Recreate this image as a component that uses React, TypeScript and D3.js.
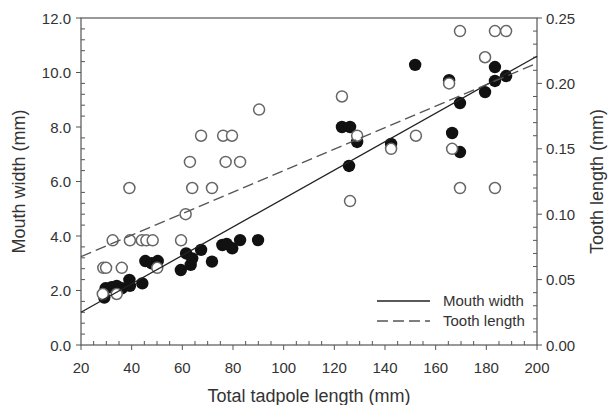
import * as d3 from 'd3';

// mouth width (filled circles, left axis)
const mouthLen = [29.2, 29.7, 32.1, 34.1, 36.1, 39.1, 39.3, 44.2, 45.4, 47.9, 50.3, 59.4, 61.5, 63.3, 63.9, 67.4, 71.7, 75.8, 77.5, 79.7, 82.8, 89.9, 123.0, 126.2, 129.0, 125.8, 142.4, 151.9, 165.3, 169.6, 166.5, 169.6, 179.5, 183.4, 183.4, 187.8];
const mouthWidth = [1.74, 2.08, 2.12, 2.17, 2.08, 2.39, 2.17, 2.26, 3.08, 3.0, 3.08, 2.75, 3.36, 2.94, 3.18, 3.49, 3.06, 3.67, 3.71, 3.55, 3.85, 3.85, 8.0, 8.0, 7.45, 6.57, 7.38, 10.28, 9.72, 8.88, 7.78, 7.08, 9.28, 10.2, 9.69, 9.87];

// tooth length (open circles, right axis)
const toothLen = [28.6, 34.1, 28.8, 29.9, 36.1, 50.1, 32.5, 39.3, 44.0, 45.8, 48.3, 59.5, 61.3, 39.1, 63.9, 71.7, 63.0, 77.1, 82.8, 67.4, 76.1, 79.6, 90.3, 123.0, 129.0, 142.4, 152.2, 165.3, 166.5, 169.6, 179.5, 183.4, 187.8, 126.2, 169.6, 183.4];
const toothLength = [0.039, 0.039, 0.059, 0.059, 0.059, 0.059, 0.08, 0.08, 0.08, 0.08, 0.08, 0.08, 0.10, 0.12, 0.12, 0.12, 0.14, 0.14, 0.14, 0.16, 0.16, 0.16, 0.18, 0.19, 0.16, 0.15, 0.16, 0.20, 0.15, 0.24, 0.22, 0.24, 0.24, 0.11, 0.12, 0.12];

// fitted lines: y = a + b * x
const mouthFit = [0.156, 0.0522];
const toothFit = [0.0511, 0.000822];

const xTicks = [20, 40, 60, 80, 100, 120, 140, 160, 180, 200];
const yLeftTicks = [0, 2, 4, 6, 8, 10, 12];
const yRightTicks = [0, 0.05, 0.1, 0.15, 0.2, 0.25];
const legendItems = ['Mouth width', 'Tooth length'];

const W = 609;
const H = 405;
const margin = { top: 18, right: 72, bottom: 60, left: 81 };
const font = 'Arial, "Liberation Sans", sans-serif';
const axisColor = '#555';
const textColor = '#333';
const tickSize = 15;
const titleSize = 18;

export default function App() {
  const x = d3.scaleLinear().domain([20, 200]).range([margin.left, W - margin.right]);
  const yL = d3.scaleLinear().domain([0, 12]).range([H - margin.bottom, margin.top]);
  const yR = d3.scaleLinear().domain([0, 0.25]).range([H - margin.bottom, margin.top]);

  const x0 = x.range()[0];
  const x1 = x.range()[1];
  const yb = yL.range()[0];
  const yt = yL.range()[1];

  const xMinor = d3.range(20, 200.01, 5).filter((v) => !xTicks.includes(v));
  const yLMinor = d3.range(0, 12.01, 0.4).filter((v) => Math.abs(v / 2 - Math.round(v / 2)) > 1e-6);
  const yRMinor = d3.range(0, 0.2501, 0.01).filter((v) => Math.abs(v / 0.05 - Math.round(v / 0.05)) > 1e-6);

  const line = d3.line<number[]>().x((d) => x(d[0])).y((d) => d[1]);
  const mouthPath = line([
    [20, yL(mouthFit[0] + mouthFit[1] * 20)],
    [200, yL(mouthFit[0] + mouthFit[1] * 200)],
  ]);
  const toothPath = line([
    [20, yR(toothFit[0] + toothFit[1] * 20)],
    [200, yR(toothFit[0] + toothFit[1] * 200)],
  ]);

  const r = 5.5;

  return (
    <div style={{ position: 'absolute', left: 0, top: 0 }}>
      <svg width={W} height={H} style={{ display: 'block', background: '#fff' }} fontFamily={font}>
        {/* frame */}
        <rect x={x0} y={yt} width={x1 - x0} height={yb - yt} fill="none" stroke={axisColor} strokeWidth={1.2} />

        {/* x ticks */}
        {xTicks.map((v) => (
          <g key={'xt' + v}>
            <line x1={x(v)} x2={x(v)} y1={yb} y2={yb + 5} stroke={axisColor} />
            <text x={x(v)} y={yb + 28} textAnchor="middle" fontSize={tickSize} fill={textColor}>{v}</text>
          </g>
        ))}
        {xMinor.map((v) => (
          <line key={'xm' + v} x1={x(v)} x2={x(v)} y1={yb} y2={yb - 4} stroke={axisColor} />
        ))}

        {/* left axis */}
        {yLeftTicks.map((v) => (
          <g key={'yl' + v}>
            <line x1={x0 - 5} x2={x0} y1={yL(v)} y2={yL(v)} stroke={axisColor} />
            <text x={x0 - 10} y={yL(v) + 5.5} textAnchor="end" fontSize={tickSize} fill={textColor}>{v.toFixed(1)}</text>
          </g>
        ))}
        {yLMinor.map((v) => (
          <line key={'ylm' + v} x1={x0} x2={x0 + 4} y1={yL(v)} y2={yL(v)} stroke={axisColor} />
        ))}

        {/* right axis */}
        {yRightTicks.map((v) => (
          <g key={'yr' + v}>
            <line x1={x1} x2={x1 + 5} y1={yR(v)} y2={yR(v)} stroke={axisColor} />
            <text x={x1 + 9} y={yR(v) + 5.5} textAnchor="start" fontSize={tickSize} fill={textColor}>{v.toFixed(2)}</text>
          </g>
        ))}
        {yRMinor.map((v) => (
          <line key={'yrm' + v} x1={x1} x2={x1 - 4} y1={yR(v)} y2={yR(v)} stroke={axisColor} />
        ))}

        {/* points */}
        {mouthLen.map((v, i) => (
          <circle key={'m' + i} cx={x(v)} cy={yL(mouthWidth[i])} r={r + 0.7} fill="#111" />
        ))}
        {toothLen.map((v, i) => (
          <circle key={'t' + i} cx={x(v)} cy={yR(toothLength[i])} r={r} fill="#fff" stroke="#666" strokeWidth={1.5} />
        ))}

        {/* fitted lines */}
        <path d={mouthPath || ''} stroke="#222" strokeWidth={1.3} fill="none" />
        <path d={toothPath || ''} stroke="#555" strokeWidth={1.3} fill="none" strokeDasharray="11,5" />

        {/* legend */}
        {legendItems.map((name, i) => (
          <g key={name} transform={`translate(377, ${301 + i * 20})`}>
            <line x1={0} x2={53} y1={0} y2={0} stroke={i === 0 ? '#222' : '#555'} strokeWidth={1.3} strokeDasharray={i === 0 ? undefined : '11,5'} />
            <text x={66} y={5} fontSize={tickSize} fill={textColor}>{name}</text>
          </g>
        ))}

        {/* titles */}
        <text x={(x0 + x1) / 2} y={H - 3} textAnchor="middle" fontSize={titleSize} fill={textColor}>Total tadpole length (mm)</text>
        <text transform={`translate(25, ${(yt + yb) / 2}) rotate(-90)`} textAnchor="middle" fontSize={titleSize} fill={textColor}>Mouth width (mm)</text>
        <text transform={`translate(603, ${(yt + yb) / 2}) rotate(-90)`} textAnchor="middle" fontSize={titleSize} fill={textColor}>Tooth length (mm)</text>
      </svg>
    </div>
  );
}
